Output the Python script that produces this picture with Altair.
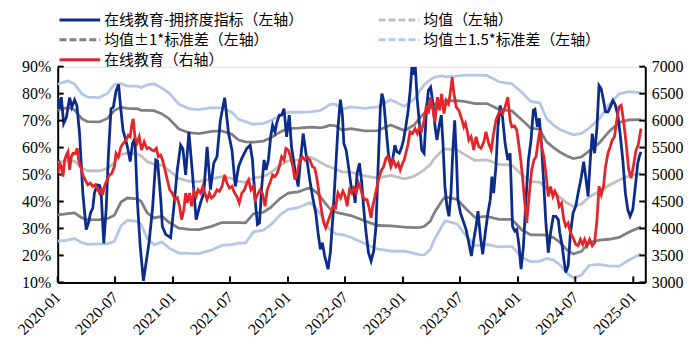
import altair as alt
import numpy as np
import pandas as pd

# ---- data (months since 2020-01-01, values) ----
blue_m = [0.03,0.21,0.38,0.62,0.90,1.24,1.48,1.76,2.00,2.28,2.62,2.97,3.21,3.42,3.66,3.83,4.11,4.35,4.53,4.80,
          5.05,5.28,5.56,5.80,6.08,6.35,6.56,6.81,7.05,7.28,7.56,7.80,8.05,8.32,8.60,8.94,9.22,9.53,9.88,10.23,
          10.41,10.75,10.91,11.26,11.78,12.12,12.47,12.82,13.06,13.34,13.68,14.02,14.44,14.89,15.23,15.58,15.93,16.27,16.61,16.96,
          17.41,17.82,18.17,18.52,18.86,19.20,19.72,20.07,20.31,20.59,20.83,21.04,21.28,21.52,21.73,21.97,22.21,22.41,22.66,22.83,
          23.11,23.35,23.60,23.87,24.15,24.38,24.74,25.08,25.32,25.60,25.94,26.29,26.63,26.91,27.15,27.39,27.60,27.84,28.19,28.43,
          28.70,28.98,29.22,29.48,29.69,29.84,30.08,30.33,30.60,30.88,31.02,31.22,31.47,31.71,31.92,32.16,32.41,32.68,32.95,33.19,
          33.44,33.65,33.81,33.99,34.23,34.48,34.68,34.92,35.16,35.37,35.62,35.86,36.06,36.30,36.55,36.76,36.94,37.10,37.29,37.49,
          37.75,37.96,38.21,38.45,38.65,38.89,39.14,39.35,39.55,39.76,40.00,40.18,40.38,40.59,40.80,41.01,41.21,41.40,41.59,41.73,
          42.00,42.35,42.59,42.87,43.14,43.39,43.63,43.83,44.07,44.32,44.59,44.87,45.11,45.28,45.46,45.70,45.91,46.14,46.39,46.66,
          46.94,47.18,47.43,47.67,47.88,48.11,48.32,48.57,48.81,49.09,49.36,49.60,49.77,50.02,50.23,50.47,50.70,50.91,51.16,51.40,
          51.68,51.95,52.20,52.36,52.61,52.78,52.98,53.23,53.47,53.75,54.02,54.27,54.61,54.85,55.06,55.31,55.54,55.75,55.99,56.24,
          56.45,56.68,56.89,57.13,57.38,57.62,57.90,58.13,58.41,58.65,58.93,59.20,59.45,59.69,59.97,60.24,60.49,60.65,60.83]
blue_v = [78.1,74.4,78.7,68.9,71.1,78.5,75.0,77.7,75.6,65.2,43.1,29.6,32.1,35.8,37.6,43.1,46.2,46.0,43.1,24.5,
          37.0,56.6,74.4,75.0,80.9,83.4,75.0,66.4,63.4,60.1,54.8,61.5,63.4,39.5,23.5,10.6,17.4,25.0,37.0,55.4,
          55.0,40.7,30.8,27.8,26.6,38.2,51.7,60.9,59.5,49.9,65.8,51.7,33.3,39.5,43.1,60.3,44.4,54.2,56.6,70.1,
          78.5,65.2,59.1,45.6,52.9,56.0,59.7,60.9,55.4,40.7,31.5,32.0,45.6,55.4,51.7,55.4,64.0,68.3,65.8,69.0,
          72.0,72.0,74.4,64.0,72.0,60.3,51.7,45.6,55.4,65.2,56.6,48.0,40.7,35.8,28.4,22.3,24.7,19.8,14.9,21.0,
          34.5,51.7,67.0,77.8,72.0,61.5,59.1,52.9,45.6,43.1,39.5,50.5,54.2,46.8,37.0,28.4,21.0,17.9,21.6,30.8,
          55.4,75.0,80.0,77.5,67.7,57.9,54.2,55.4,60.9,58.5,57.9,60.0,62.8,67.7,73.8,81.2,90.0,87.0,90.0,78.0,
          67.7,59.1,57.9,73.8,81.2,82.4,76.3,67.7,62.8,67.7,72.0,61.5,45.6,38.2,34.5,43.1,59.1,70.1,55.4,40.7,
          35.8,32.1,29.6,24.7,19.8,25.9,30.8,36.4,27.2,20.4,28.4,35.8,40.7,49.2,43.1,52.9,67.7,75.6,71.3,61.5,
          55.4,57.9,30.8,29.0,29.6,23.5,14.9,23.5,39.5,55.4,62.8,73.8,74.2,67.7,70.8,60.3,45.6,32.1,21.0,28.4,
          34.5,34.5,33.3,28.4,23.5,18.6,13.7,16.1,28.4,35.8,38.2,43.1,49.2,54.8,49.2,41.9,55.4,65.2,57.9,67.7,
          83.0,81.8,78.0,73.2,73.2,75.0,77.5,76.0,72.0,65.2,55.4,43.1,37.0,34.5,37.0,45.6,54.2,56.6,58.4]

red_m = [0.03,0.21,0.38,0.55,0.73,0.90,1.07,1.24,1.42,1.59,1.83,2.04,2.18,2.38,2.62,2.87,3.14,3.42,3.66,3.91,
         4.11,4.35,4.53,4.69,4.87,5.15,5.39,5.63,5.91,6.08,6.32,6.60,6.84,7.12,7.36,7.56,7.74,7.88,8.05,8.26,
         8.50,8.74,9.02,9.30,9.53,9.81,10.05,10.29,10.50,10.75,10.98,11.19,11.43,11.68,11.95,12.23,12.47,12.71,12.92,13.16,
         13.34,13.50,13.75,13.96,14.20,14.44,14.64,14.89,15.13,15.34,15.58,15.82,16.03,16.27,16.61,16.86,17.13,17.41,17.65,17.90,
         18.17,18.45,18.68,18.93,19.20,19.48,19.72,19.90,20.15,20.39,20.59,20.83,21.11,21.35,21.62,21.85,22.13,22.41,22.66,22.90,
         23.11,23.35,23.60,23.80,24.04,24.22,24.49,24.74,24.97,25.25,25.52,25.77,26.01,26.29,26.56,26.81,27.05,27.25,27.49,27.74,
         27.95,28.19,28.43,28.70,28.98,29.22,29.50,29.74,29.98,30.18,30.43,30.67,30.88,31.12,31.37,31.57,31.81,32.05,32.26,32.51,
         32.68,32.85,33.09,33.30,33.54,33.78,33.99,34.23,34.40,34.58,34.75,35.00,35.27,35.51,35.72,35.96,36.13,36.30,36.53,36.74,
         37.00,37.27,37.51,37.75,37.96,38.21,38.45,38.65,38.89,39.14,39.35,39.59,39.82,40.03,40.28,40.52,40.76,40.93,41.14,41.32,
         41.56,41.84,42.11,42.35,42.52,42.69,42.87,43.11,43.39,43.63,43.90,44.15,44.43,44.66,44.94,45.21,45.46,45.70,45.91,46.14,
         46.39,46.66,46.94,47.18,47.36,47.64,47.88,48.11,48.29,48.47,48.68,48.91,49.19,49.43,49.67,49.88,50.12,50.29,50.47,50.70,
         50.91,51.16,51.40,51.64,51.85,52.10,52.30,52.54,52.78,52.98,53.23,53.47,53.75,54.02,54.27,54.51,54.75,54.95,55.20,55.47,
         55.75,55.99,56.24,56.45,56.68,56.92,57.13,57.38,57.62,57.82,58.06,58.31,58.52,58.76,59.00,59.28,59.55,59.79,60.03,60.31,
         60.54,60.83]
red_v = [5025,5209,5150,4963,5270,5362,5423,5086,5331,5390,5390,5485,5270,5147,4994,4902,4810,4840,4779,4810,
         4749,4657,4720,4626,4779,4902,4994,5020,5147,5393,5330,5515,5580,5638,5730,5700,5946,6030,5699,5577,
         5700,5454,5607,5480,5500,5454,5440,5485,5331,5360,5239,5086,4902,4718,4657,4534,4570,4411,4165,4350,
         4657,4473,4657,4411,4687,4600,4718,4657,4779,4657,4534,4657,4565,4600,4718,4690,4779,4994,4841,4750,
         4780,4657,4595,4473,4657,4718,4841,4900,4718,4779,4534,4626,4718,4650,4411,4718,4841,4994,4963,5025,
         5147,5331,5270,5485,5454,5362,5178,4902,5025,5270,5331,5270,5331,5270,5147,5120,4902,4657,4350,4104,
         4012,4134,4250,4411,4380,4657,4565,4690,4600,4411,4718,4657,4749,4657,4841,4749,4595,4534,4534,4350,
         4196,4411,4595,4779,4963,5086,5147,5301,5331,5270,5147,5270,5147,5209,5086,5209,5270,5390,5560,5790,
         5760,5850,5761,5883,5822,6006,6283,6130,6435,6190,5975,6435,6190,6497,6130,6375,6310,6500,6804,6497,
         6251,6190,6037,5883,5950,5822,5638,5700,5454,5699,5520,5485,5600,5791,5580,5454,5761,6006,6100,6190,
         6130,6250,6435,6006,5883,5900,5822,5515,5270,4963,4534,4104,4657,5086,5270,5331,5638,5822,5515,5331,
         5025,4595,4779,4595,4690,4595,4411,4470,4165,4043,4100,3920,3828,3705,3680,3797,3705,3797,3680,3797,
         3680,3736,4165,4779,4626,4779,5147,5393,5515,5638,5700,6006,6251,6283,6006,5577,5086,4933,5147,5454,
         5550,5853]

band_m = [0.0,1.04,1.76,2.49,3.11,4.35,5.18,5.91,6.60,7.25,8.29,8.70,9.33,10.05,10.88,11.61,12.64,13.68,14.72,16.06,
          17.10,18.13,18.86,19.59,20.41,21.45,22.18,23.21,24.04,25.08,26.32,26.94,27.36,27.98,28.39,29.02,29.64,30.57,32.02,33.37,
          34.72,36.17,37.20,37.82,38.24,38.86,39.27,40.10,40.41,41.66,42.49,43.52,44.77,46.01,47.36,48.39,49.33,50.26,50.98,51.71,
          52.33,53.06,53.78,54.61,55.44,56.48,57.51,58.55,59.59,60.83]
band_mean = [54.4,55.2,54.9,52.4,51.4,51.4,52.2,54.3,57.4,57.9,57.7,56.9,54.8,53.8,53.5,51.5,48.5,47.6,47.4,48.4,
             49.2,48.6,47.5,47.1,48.7,49.2,50.6,53.5,55.1,55.4,56.4,55.5,54.6,53.4,52.8,52.0,51.0,50.9,49.5,48.7,
             49.7,48.4,49.4,50.8,51.8,53.7,55.9,58.9,59.5,59.1,57.3,55.2,55.4,53.8,53.5,49.9,47.4,47.2,44.8,43.3,
             41.7,39.6,38.2,39.0,41.8,43.7,46.0,48.0,49.5,50.5]
band_std = [19.4,19.7,19.1,18.4,18.2,18.1,18.6,19.4,17.6,16.6,16.7,16.9,19.0,19.9,19.0,19.2,18.4,17.9,17.8,17.6,
            17.0,16.4,15.3,15.0,13.3,13.2,12.9,12.3,12.0,11.8,11.2,12.0,12.7,14.4,15.5,16.0,15.5,16.1,16.7,17.6,
            18.7,17.9,19.1,20.4,21.0,21.0,20.1,18.5,17.8,18.3,19.7,21.1,20.9,20.4,20.1,20.4,19.8,19.6,17.3,16.7,
            16.7,17.4,17.7,17.5,17.0,18.0,20.0,21.3,20.8,19.9]

x_ticks = ["2020-01-01","2020-07-01","2021-01-01","2021-07-01","2022-01-01","2022-07-01",
           "2023-01-01","2023-07-01","2024-01-01","2024-07-01","2025-01-01"]
left_ticks = [10,20,30,40,50,60,70,80,90]
right_ticks = [3000,3500,4000,4500,5000,5500,6000,6500,7000]

S_BLUE = "在线教育-拥挤度指标（左轴）"
S_MEAN = "均值（左轴）"
S_SD1 = "均值±1*标准差（左轴）"
S_SD15 = "均值±1.5*标准差（左轴）"
S_RED = "在线教育（右轴）"
series_names = [S_BLUE, S_MEAN, S_SD1, S_SD15, S_RED]
series_colors = ["#0C2C8C", "#C0C0C0", "#808080", "#B4C7E7", "#E3262A"]
legend_dashes = [[1, 0], [7, 3], [7, 3], [7, 3], [1, 0]]

START = pd.Timestamp("2020-01-01")
def to_dates(m):
    return START + pd.to_timedelta(np.array(m) * 30.4375, unit="D")

blue_df = pd.DataFrame({"date": to_dates(blue_m), "v": blue_v, "series": S_BLUE})
red_df = pd.DataFrame({"date": to_dates(red_m), "v": red_v, "series": S_RED})
bd = to_dates(band_m)
mean = np.array(band_mean); sd = np.array(band_std)
band_parts = []
for k, name, lid in [(1.5, S_SD15, "u15"), (-1.5, S_SD15, "l15"), (1, S_SD1, "u1"), (-1, S_SD1, "l1"), (0, S_MEAN, "m")]:
    band_parts.append(pd.DataFrame({"date": bd, "v": mean + k * sd, "series": name, "line": lid}))
band_df = pd.concat(band_parts, ignore_index=True)

W, H = 591, 217
FONT_AX = "Liberation Serif"
FONT_LG = "Noto Sans CJK SC"

xscale = alt.Scale(domain=["2020-01-01", "2025-02-08"])
xaxis = alt.Axis(values=x_ticks, format="%Y-%m", labelAngle=315, labelAlign="right", labelBaseline="middle",
                 labelPadding=12, ticks=False, tickSize=0, grid=False, domainColor="black", domainWidth=2,
                 labelFont=FONT_AX, labelFontSize=16, labelColor="black", title=None, labelOverlap=False,
                 labelFlush=False)
X = alt.X("date:T", scale=xscale, axis=xaxis)

lscale = alt.Scale(domain=[10, 90], nice=False, zero=False)
laxis = alt.Axis(values=left_ticks, labelExpr="datum.value + '%'", ticks=False, tickSize=0, grid=False,
                 domainColor="black", domainWidth=2, labelFont=FONT_AX, labelFontSize=16, labelColor="black",
                 labelPadding=7, title=None)
YL = alt.Y("v:Q", scale=lscale, axis=laxis)

rscale = alt.Scale(domain=[3000, 7000], nice=False, zero=False)
raxis = alt.Axis(values=right_ticks, orient="right", format="d", ticks=False, tickSize=0, grid=False,
                 domainColor="black", domainWidth=2, labelFont=FONT_AX, labelFontSize=16, labelColor="black",
                 labelPadding=6, title=None)
YR = alt.Y("v:Q", scale=rscale, axis=raxis)

# long, flat legend stroke: custom path twice as wide as the nominal symbol box
legend = alt.Legend(title=None, orient="none", legendX=0, legendY=-59, columns=2, columnPadding=69,
                    rowPadding=0, symbolType="M-2,0H2", symbolSize=420, symbolStrokeWidth=3,
                    symbolOffset=10.25, labelOffset=12.5,
                    labelFont=FONT_LG, labelFontSize=15, labelColor="black", labelLimit=400,
                    direction="horizontal")
C = alt.Color("series:N", scale=alt.Scale(domain=series_names, range=series_colors), legend=legend)
D = alt.StrokeDash("series:N", scale=alt.Scale(domain=series_names, range=legend_dashes), legend=legend)

SW = 2.8
lb = alt.Chart(band_df[band_df["series"] == S_SD15]).mark_line(strokeWidth=SW, clip=True).encode(
    x=X, y=YL, color=C, detail="line:N")
dg = alt.Chart(band_df[band_df["series"] == S_SD1]).mark_line(strokeWidth=SW, clip=True).encode(
    x=X, y=YL, color=C, detail="line:N")
mn = alt.Chart(band_df[band_df["series"] == S_MEAN]).mark_line(strokeWidth=SW, clip=True).encode(
    x=X, y=YL, color=C)
bl = alt.Chart(blue_df).mark_line(strokeWidth=SW, clip=True).encode(x=X, y=YL, color=C)

# legend-only layer (no rows): gives the legend its dashed symbols
empty_df = pd.DataFrame({"date": pd.to_datetime([]), "v": pd.Series([], dtype=float),
                         "series": pd.Series([], dtype=str)})
lg = alt.Chart(empty_df).mark_line(strokeWidth=SW).encode(x=X, y=YL, color=C, strokeDash=D)

lt_df = pd.DataFrame({"v": left_ticks})
ltick = alt.Chart(lt_df).mark_rule(color="black", strokeWidth=2).encode(
    y=YL, x=alt.value(0), x2=alt.value(6))
bt_df = pd.DataFrame({"date": pd.to_datetime(x_ticks)})
btick = alt.Chart(bt_df).mark_rule(color="black", strokeWidth=2).encode(
    x=X, y=alt.value(H), y2=alt.value(H - 6))

rd = alt.Chart(red_df).mark_line(strokeWidth=SW, clip=True).encode(x=X, y=YR, color=C)
rt_df = pd.DataFrame({"v": right_ticks})
rtick = alt.Chart(rt_df).mark_rule(color="black", strokeWidth=2).encode(
    y=YR, x=alt.value(W - 6), x2=alt.value(W))

left = alt.layer(lb, dg, mn, bl, lg, ltick, btick)
right = alt.layer(rd, rtick)

chart = alt.layer(left, right).resolve_scale(y="independent").properties(
    width=W, height=H, autosize=alt.AutoSizeParams(type="none"),
    padding={"left": 50, "top": 58, "right": 45, "bottom": 70}
).configure_view(stroke=None).configure(background="white")

chart.save("out.html", embed_options={"renderer": "svg", "actions": False})
